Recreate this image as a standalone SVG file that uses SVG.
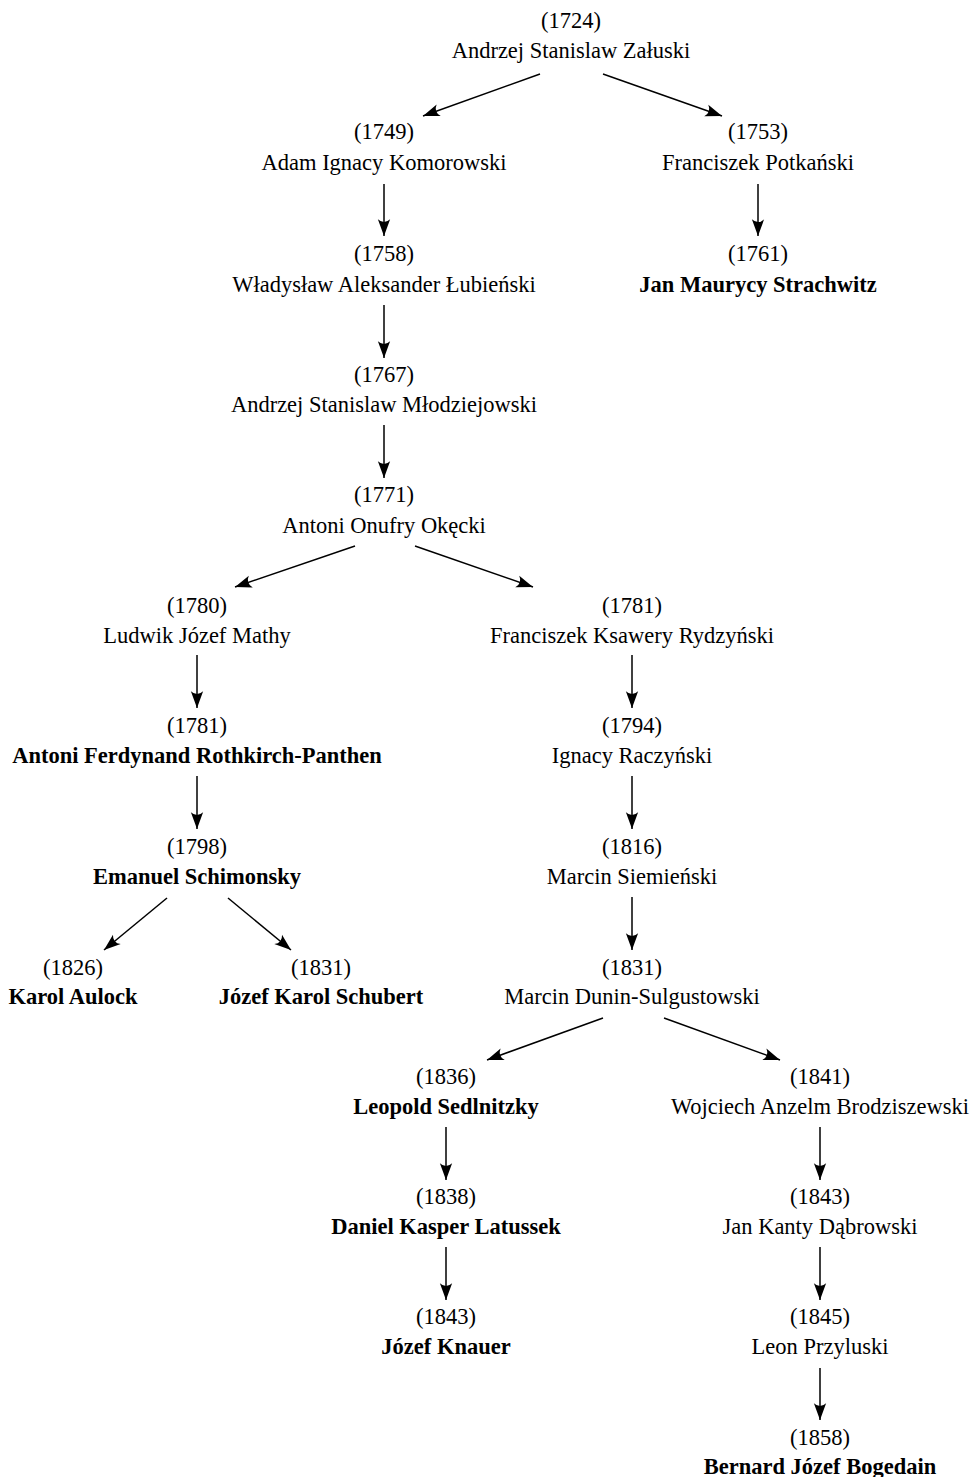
<svg xmlns="http://www.w3.org/2000/svg" width="971" height="1477" viewBox="0 0 971 1477">
<style>
text{font-family:"Liberation Serif","Times New Roman",serif;font-size:22.5px;fill:#000;text-anchor:middle}
.b{font-weight:bold}
.c line{stroke:#000;stroke-width:1.5;marker-end:url(#ah)}
</style>
<defs>
<marker id="ah" markerUnits="userSpaceOnUse" markerWidth="20" markerHeight="20" refX="0" refY="0" viewBox="-16 -8 18 16" orient="auto" overflow="visible">
<path d="M0,0 L-15,-5.5 Q-10,0 -15,5.5 Z" fill="#000"/>
</marker>
</defs>
<rect width="971" height="1477" fill="#fff"/>
<g class="c" id="connectors">
<line x1="540" y1="74" x2="423" y2="116"/>
<line x1="603" y1="74" x2="722" y2="116"/>
<line x1="384" y1="184" x2="384" y2="236"/>
<line x1="758" y1="184" x2="758" y2="236"/>
<line x1="384" y1="305" x2="384" y2="358"/>
<line x1="384" y1="425" x2="384" y2="478"/>
<line x1="355" y1="546" x2="235" y2="587"/>
<line x1="415" y1="546" x2="533" y2="587"/>
<line x1="197" y1="655" x2="197" y2="708"/>
<line x1="632" y1="655" x2="632" y2="708"/>
<line x1="197" y1="776" x2="197" y2="829"/>
<line x1="632" y1="776" x2="632" y2="829"/>
<line x1="167" y1="898" x2="104" y2="950"/>
<line x1="228" y1="898" x2="291" y2="950"/>
<line x1="632" y1="897" x2="632" y2="950"/>
<line x1="603" y1="1018" x2="487" y2="1060"/>
<line x1="664" y1="1018" x2="780" y2="1060"/>
<line x1="446" y1="1127" x2="446" y2="1180"/>
<line x1="820" y1="1127" x2="820" y2="1180"/>
<line x1="446" y1="1247" x2="446" y2="1300"/>
<line x1="820" y1="1247" x2="820" y2="1300"/>
<line x1="820" y1="1368" x2="820" y2="1420"/>
</g>
<g id="n1724"><text x="571" y="28">(1724)</text><text x="571" y="58">Andrzej Stanislaw Załuski</text></g>
<g id="n1749"><text x="384" y="139">(1749)</text><text x="384" y="170">Adam Ignacy Komorowski</text></g>
<g id="n1753"><text x="758" y="139">(1753)</text><text x="758" y="170">Franciszek Potkański</text></g>
<g id="n1758"><text x="384" y="261">(1758)</text><text x="384" y="292">Władysław Aleksander Łubieński</text></g>
<g id="n1761"><text x="758" y="261">(1761)</text><text x="758" y="292" class="b">Jan Maurycy Strachwitz</text></g>
<g id="n1767"><text x="384" y="382">(1767)</text><text x="384" y="412">Andrzej Stanislaw Młodziejowski</text></g>
<g id="n1771"><text x="384" y="502">(1771)</text><text x="384" y="533">Antoni Onufry Okęcki</text></g>
<g id="n1780"><text x="197" y="613">(1780)</text><text x="197" y="643">Ludwik Józef Mathy</text></g>
<g id="n1781r"><text x="632" y="613">(1781)</text><text x="632" y="643">Franciszek Ksawery Rydzyński</text></g>
<g id="n1781l"><text x="197" y="733">(1781)</text><text x="197" y="763" class="b">Antoni Ferdynand Rothkirch-Panthen</text></g>
<g id="n1794"><text x="632" y="733">(1794)</text><text x="632" y="763">Ignacy Raczyński</text></g>
<g id="n1798"><text x="197" y="854">(1798)</text><text x="197" y="884" class="b">Emanuel Schimonsky</text></g>
<g id="n1816"><text x="632" y="854">(1816)</text><text x="632" y="884">Marcin Siemieński</text></g>
<g id="n1826"><text x="73" y="975">(1826)</text><text x="73" y="1004" class="b">Karol Aulock</text></g>
<g id="n1831l"><text x="321" y="975">(1831)</text><text x="321" y="1004" class="b">Józef Karol Schubert</text></g>
<g id="n1831r"><text x="632" y="975">(1831)</text><text x="632" y="1004">Marcin Dunin-Sulgustowski</text></g>
<g id="n1836"><text x="446" y="1084">(1836)</text><text x="446" y="1114" class="b">Leopold Sedlnitzky</text></g>
<g id="n1841"><text x="820" y="1084">(1841)</text><text x="820" y="1114">Wojciech Anzelm Brodziszewski</text></g>
<g id="n1838"><text x="446" y="1204">(1838)</text><text x="446" y="1234" class="b">Daniel Kasper Latussek</text></g>
<g id="n1843r"><text x="820" y="1204">(1843)</text><text x="820" y="1234">Jan Kanty Dąbrowski</text></g>
<g id="n1843l"><text x="446" y="1324">(1843)</text><text x="446" y="1354" class="b">Józef Knauer</text></g>
<g id="n1845"><text x="820" y="1324">(1845)</text><text x="820" y="1354">Leon Przyluski</text></g>
<g id="n1858"><text x="820" y="1445">(1858)</text><text x="820" y="1474" class="b">Bernard Józef Bogedain</text></g>
</svg>
